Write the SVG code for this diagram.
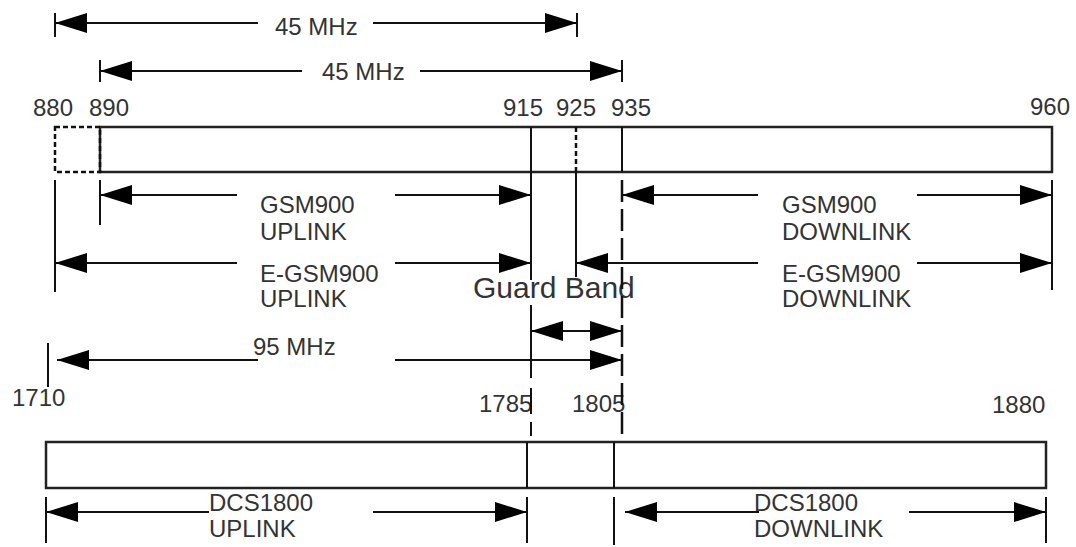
<svg xmlns="http://www.w3.org/2000/svg" width="1076" height="547" viewBox="0 0 1076 547">
<style>
  .t { font-family: "Liberation Sans", Arial, sans-serif; font-size: 24px; fill: #333; }
  .gb { font-size: 30px; }
  .ln { stroke: #111; stroke-width: 2; fill: none; }
  .ar { stroke: #111; stroke-width: 2; fill: none; }
  .s { marker-start: url(#ah); }
  .e { marker-end: url(#ah); }
  .band { fill: none; stroke: #222; stroke-width: 2.5; }
  .dot { stroke: #111; stroke-width: 2.5; stroke-dasharray: 5 3; fill: none; }
  .dash { stroke: #111; stroke-width: 2.5; stroke-dasharray: 22 7; fill: none; }
</style>
<defs>
  <marker id="ah" markerUnits="userSpaceOnUse" markerWidth="32" markerHeight="20" refX="32" refY="10" orient="auto-start-reverse" viewBox="0 0 32 20">
    <path d="M0,0 L32,10 L0,20 Z" fill="#000"/>
  </marker>
</defs>
<rect width="1076" height="547" fill="#fff"/>

<g id="gsm-band">
  <rect class="band" x="100" y="127" width="952" height="45"/>
  <rect class="dot" x="55" y="127" width="45" height="45"/>
  <line class="ln" x1="531" y1="127" x2="531" y2="172"/>
  <line class="ln" x1="622" y1="127" x2="622" y2="172"/>
  <line class="dot" x1="576" y1="127" x2="576" y2="172" stroke-width="2"/>
</g>

<g id="dcs-band">
  <rect class="band" x="46" y="442" width="1000" height="46"/>
  <line class="ln" x1="527" y1="442" x2="527" y2="488"/>
  <line class="ln" x1="614" y1="442" x2="614" y2="488"/>
</g>

<g id="frequency-labels">
  <text class="t" x="33" y="116">880</text>
  <text class="t" x="89" y="116">890</text>
  <text class="t" x="503" y="116">915</text>
  <text class="t" x="556" y="116">925</text>
  <text class="t" x="611" y="116">935</text>
  <text class="t" x="1030" y="115">960</text>
  <text class="t" x="12" y="406">1710</text>
  <text class="t" x="479" y="412">1785</text>
  <text class="t" x="572" y="412">1805</text>
  <text class="t" x="992" y="413">1880</text>
</g>

<g id="band-labels">
  <text class="t" x="260" y="213">GSM900</text>
  <text class="t" x="260" y="240">UPLINK</text>
  <text class="t" x="260" y="282">E-GSM900</text>
  <text class="t" x="260" y="307">UPLINK</text>
  <text class="t" x="782" y="213">GSM900</text>
  <text class="t" x="782" y="240">DOWNLINK</text>
  <text class="t" x="782" y="282">E-GSM900</text>
  <text class="t" x="782" y="307">DOWNLINK</text>
  <text class="t gb" x="473" y="298">Guard Band</text>
  <text class="t" x="275" y="35">45 MHz</text>
  <text class="t" x="322" y="80">45 MHz</text>
  <text class="t" x="253" y="355">95 MHz</text>
  <text class="t" x="209" y="511">DCS1800</text>
  <text class="t" x="209" y="537">UPLINK</text>
  <text class="t" x="754" y="511">DCS1800</text>
  <text class="t" x="754" y="537">DOWNLINK</text>
</g>

<g id="connectors">
  <line class="ln" x1="55" y1="13" x2="55" y2="37"/>
  <line class="ln" x1="577" y1="13" x2="577" y2="37"/>
  <line class="ln" x1="100" y1="60" x2="100" y2="82"/>
  <line class="ln" x1="622" y1="60" x2="622" y2="82"/>
  <line class="ln" x1="55" y1="180" x2="55" y2="292"/>
  <line class="ln" x1="100" y1="180" x2="100" y2="225"/>
  <line class="ln" x1="531" y1="172" x2="531" y2="280"/>
  <line class="ln" x1="531" y1="305" x2="531" y2="378"/>
  <line class="ln" x1="531" y1="388" x2="531" y2="414" stroke-width="2.5"/>
  <line class="ln" x1="531" y1="422" x2="531" y2="436" stroke-width="2.5"/>
  <line class="ln" x1="576" y1="172" x2="576" y2="277"/>
  <line class="dash" x1="622" y1="180" x2="622" y2="436"/>
  <line class="ln" x1="1052" y1="180" x2="1052" y2="290"/>
  <line class="ln" x1="48" y1="343" x2="48" y2="387"/>
  <line class="ln" x1="46" y1="497" x2="46" y2="543"/>
  <line class="ln" x1="527" y1="497" x2="527" y2="543"/>
  <line class="ln" x1="614" y1="497" x2="614" y2="545"/>
  <line class="ln" x1="1046" y1="497" x2="1046" y2="543"/>

  <line class="ar s" x1="55" y1="23" x2="258" y2="23"/>
  <line class="ar e" x1="373" y1="23" x2="577" y2="23"/>
  <line class="ar s" x1="100" y1="71" x2="302" y2="71"/>
  <line class="ar e" x1="420" y1="71" x2="622" y2="71"/>

  <line class="ar s" x1="100" y1="195" x2="237" y2="195"/>
  <line class="ar e" x1="395" y1="195" x2="531" y2="195"/>
  <line class="ar s" x1="622" y1="195" x2="758" y2="195"/>
  <line class="ar e" x1="917" y1="195" x2="1052" y2="195"/>

  <line class="ar s" x1="55" y1="263" x2="237" y2="263"/>
  <line class="ar e" x1="395" y1="263" x2="531" y2="263"/>
  <line class="ar s" x1="576" y1="263" x2="758" y2="263"/>
  <line class="ar e" x1="917" y1="263" x2="1052" y2="263"/>

  <line class="ar s e" x1="531" y1="331" x2="622" y2="331"/>

  <line class="ar s" x1="57" y1="360" x2="258" y2="360"/>
  <line class="ar e" x1="395" y1="360" x2="622" y2="360"/>

  <line class="ar s" x1="46" y1="512" x2="209" y2="512"/>
  <line class="ar e" x1="373" y1="512" x2="527" y2="512"/>
  <line class="ar s" x1="625" y1="512" x2="759" y2="512"/>
  <line class="ar e" x1="909" y1="512" x2="1046" y2="512"/>
</g>
</svg>
